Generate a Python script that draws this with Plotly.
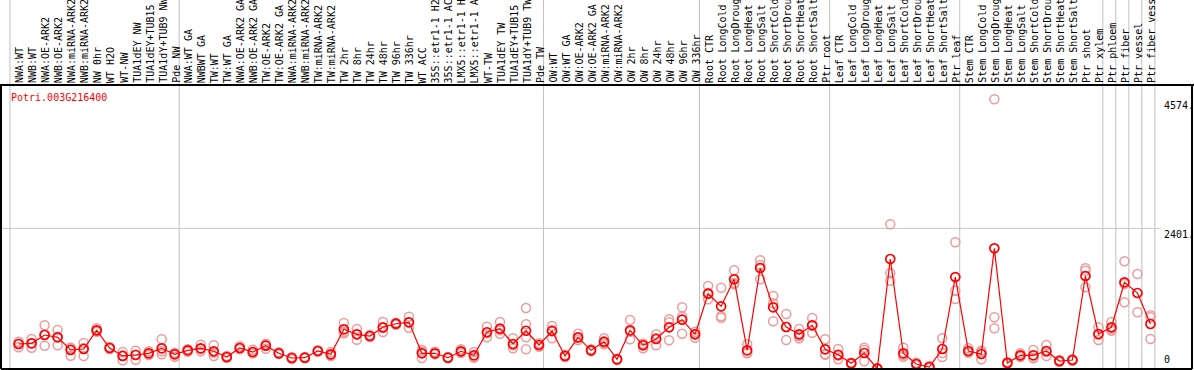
import plotly.graph_objects as go

gene_id = "Potri.003G216400"

categories = [
    "NWA:WT", "NWB:WT", "NWA:OE-ARK2", "NWB:OE-ARK2", "NWA:miRNA-ARK2", "NWB:miRNA-ARK2",
    "NW 0hr", "WT H2O", "WT-NW", "TUA1dEY NW", "TUA1dEY+TUB15 NW", "TUA1dY+TUB9 NW", "Pde NW",
    "NWA:WT GA", "NWBWT GA", "TW:WT", "TW:WT GA", "NWA:OE-ARK2 GA", "NWB:OE-ARK2 GA",
    "TW:OE-ARK2", "TW:OE-ARK2 GA", "NWA:miRNA-ARK2 GA", "NWB:miRNA-ARK2 GA", "TW:miRNA-ARK2",
    "TW:miRNA-ARK2 GA", "TW 2hr", "TW 8hr", "TW 24hr", "TW 48hr", "TW 96hr", "TW 336hr",
    "WT ACC", "35S::etr1-1 H2O", "35S::etr1-1 ACC", "LMX5::etr1-1 H2O", "LMX5::etr1-1 ACC",
    "WT-TW", "TUA1dEY TW", "TUA1dEY+TUB15 TW", "TUA1dY+TUB9 TW", "Pde TW",
    "OW:WT", "OW:WT GA", "OW:OE-ARK2", "OW:OE-ARK2 GA", "OW:miRNA-ARK2", "OW:miRNA-ARK2 GA",
    "OW 2hr", "OW 8hr", "OW 24hr", "OW 48hr", "OW 96hr", "OW 336hr",
    "Root CTR", "Root LongCold", "Root LongDrought", "Root LongHeat", "Root LongSalt",
    "Root ShortCold", "Root ShortDrought", "Root ShortHeat", "Root ShortSalt", "Ptr root",
    "Leaf CTR", "Leaf LongCold", "Leaf LongDrought", "Leaf LongHeat", "Leaf LongSalt",
    "Leaf ShortCold", "Leaf ShortDrought", "Leaf ShortHeat", "Leaf ShortSalt", "Ptr leaf",
    "Stem CTR", "Stem LongCold", "Stem LongDrought", "Stem LongHeat", "Stem LongSalt",
    "Stem ShortCold", "Stem ShortDrought", "Stem ShortHeat", "Stem ShortSalt", "Ptr shoot",
    "Ptr xylem", "Ptr phloem", "Ptr fiber", "Ptr vessel", "Ptr fiber vessel",
]

group_sizes = [13, 28, 12, 10, 10, 11, 1, 1, 1, 1]

mean_values = [
    455, 466, 606, 567, 354, 370, 685, 387, 253, 269,
    298, 382, 281, 348, 382, 332, 236, 387, 320, 426,
    298, 219, 224, 337, 281, 702, 618, 589, 736, 796,
    820, 298, 298, 224, 332, 264, 652, 712, 455, 678,
    438, 673, 253, 567, 348, 493, 197, 685, 433, 539,
    736, 864, 618, 1301, 1089, 1544, 348, 1734, 1072, 741,
    618, 769, 365, 274, 130, 303, 39, 1886, 298, 118,
    67, 370, 1582, 337, 286, 2066, 135, 264, 264, 337,
    168, 185, 1599, 623, 736, 1493, 1313, 791,
]

replicates = [
    [493, 399, 455], [539, 392, 466], [769, 426, 620], [690, 433, 578], [392, 258, 387],
    [471, 253, 387], [719, 673, 662], [404, 370, 387], [320, 180, 258], [342, 190, 275],
    [332, 269, 293], [534, 281, 332], [308, 241, 295], [365, 325, 354], [443, 332, 370],
    [433, 253, 308], [253, 219, 236], [416, 365, 382], [359, 298, 303], [460, 375, 438],
    [315, 286, 291], [236, 202, 219], [236, 214, 224], [348, 325, 337], [320, 264, 253],
    [808, 635, 662], [707, 527, 618], [606, 572, 589], [825, 657, 724], [813, 779, 796],
    [914, 729, 820], [354, 325, 219], [325, 286, 281], [236, 214, 224], [365, 303, 325],
    [320, 236, 224], [746, 567, 640], [825, 628, 685], [551, 382, 433], [1061, 786, 567, 365],
    [466, 409, 438], [758, 551, 690], [269, 236, 253], [628, 522, 556], [365, 332, 348],
    [551, 471, 449], [207, 185, 197], [859, 534, 662], [382, 455, 460], [618, 433, 556],
    [870, 820, 517], [1072, 914, 628], [662, 561, 623], [1431, 1207, 1313], [1402, 921, 897],
    [1695, 1460, 1482], [449, 298, 303], [1864, 1544, 1785], [1263, 1140, 837], [960, 522, 741],
    [707, 551, 589], [892, 645, 769], [534, 274, 287], [370, 197, 258], [140, 118, 130],
    [392, 163, 354], [50, 25, 39], [2470, 1645, 1520], [392, 241, 269], [140, 101, 118],
    [84, 50, 67], [551, 236, 303], [2167, 1352, 1212], [382, 308, 320], [342, 197, 320],
    [4574, 904, 719], [152, 118, 135], [298, 236, 253], [354, 214, 224], [438, 253, 320],
    [185, 152, 168], [197, 173, 185], [1729, 1689, 1409], [736, 522, 611], [825, 678, 707],
    [1847, 1157, 1465], [1633, 988], [938, 904, 539],
]

tick_values = [0, 2401, 4574]
tick_labels = ["0", "2401.", "4574."]
grid_values = [2401]

# ---------------- layout geometry (pixels) ----------------
W, H = 1194, 370
PLOT_TOP, PLOT_BOT = 85, 369
X_RANGE = [-1.4297, 90.346]
Y_RANGE = [33.7, 4815]
FONT = "DejaVu Sans Mono"


def paper_x_from_px(px):
    return px / W


def paper_y_from_px(py):
    return (PLOT_BOT - py) / (PLOT_BOT - PLOT_TOP)


def paper_x_from_idx(v):
    return (v - X_RANGE[0]) / (X_RANGE[1] - X_RANGE[0])


n = len(categories)
xs = list(range(n))

rep_x, rep_y = [], []
for i, reps in enumerate(replicates):
    for r in reps:
        rep_x.append(i)
        rep_y.append(r)

fig = go.Figure()
fig.add_trace(go.Scatter(
    x=rep_x, y=rep_y, mode="markers", hoverinfo="skip",
    marker=dict(symbol="circle-open", size=9, color="#ec9a9a", line=dict(width=1.5)),
    showlegend=False,
))
fig.add_trace(go.Scatter(
    x=xs, y=mean_values, mode="lines+markers",
    line=dict(color="#ff0000", width=1.2),
    marker=dict(symbol="circle-open", size=9, color="#ff0000", line=dict(width=1.7)),
    showlegend=False,
))

shapes = []
bounds = [0]
for g in group_sizes:
    bounds.append(bounds[-1] + g)
top_paper = paper_y_from_px(0)
for b in bounds:
    xp = paper_x_from_idx(b - 0.661)
    shapes.append(dict(type="line", xref="paper", yref="paper", x0=xp, x1=xp,
                       y0=0, y1=top_paper, line=dict(color="#c0c0c0", width=1), layer="below"))
for gv in grid_values:
    shapes.append(dict(type="line", xref="paper", yref="y", x0=0, x1=paper_x_from_px(1161),
                       y0=gv, y1=gv, line=dict(color="#c8c8c8", width=1), layer="below"))
blk = dict(color="black", width=2)
shapes.append(dict(type="line", xref="paper", yref="paper", x0=0, x1=1, y0=1, y1=1, line=blk))
shapes.append(dict(type="line", xref="paper", yref="paper", x0=paper_x_from_px(1),
                   x1=paper_x_from_px(1192), y0=0, y1=0, line=blk))
shapes.append(dict(type="line", xref="paper", yref="paper", x0=paper_x_from_px(1),
                   x1=paper_x_from_px(1), y0=0, y1=1, line=blk))
shapes.append(dict(type="line", xref="paper", yref="paper", x0=paper_x_from_px(1192),
                   x1=paper_x_from_px(1192), y0=0, y1=1, line=blk))

annotations = []
label_y = paper_y_from_px(84)
for i, c in enumerate(categories):
    annotations.append(dict(
        x=i, xref="x", y=label_y, yref="paper", text=c, showarrow=False,
        textangle=-90, xanchor="center", yanchor="bottom", xshift=1.5,
        font=dict(family=FONT, size=10, color="black"), borderpad=0,
    ))
annotations.append(dict(
    x=paper_x_from_px(9), xref="paper", y=paper_y_from_px(97), yref="paper",
    text=gene_id, showarrow=False, xanchor="left", yanchor="middle",
    font=dict(family=FONT, size=10, color="#ff0000"),
))
for tv, tl in zip(tick_values, tick_labels):
    if tv == 0:
        annotations.append(dict(
            x=paper_x_from_px(1163), xref="paper", y=paper_y_from_px(366), yref="paper",
            text=tl, showarrow=False, xanchor="left", yanchor="bottom",
            font=dict(family=FONT, size=10, color="black"), borderpad=0,
        ))
    else:
        annotations.append(dict(
            x=paper_x_from_px(1163), xref="paper", y=tv, yref="y",
            text=tl, showarrow=False, xanchor="left", yanchor="top",
            font=dict(family=FONT, size=10, color="black"), borderpad=0,
        ))

fig.update_layout(
    width=W, height=H,
    margin=dict(l=0, r=0, t=PLOT_TOP, b=H - PLOT_BOT, pad=0),
    paper_bgcolor="white", plot_bgcolor="white",
    xaxis=dict(range=X_RANGE, visible=False, fixedrange=True),
    yaxis=dict(range=Y_RANGE, visible=False, fixedrange=True),
    shapes=shapes, annotations=annotations,
    font=dict(family=FONT),
)

fig.write_html(
    "out.html",
    config={"displayModeBar": False},
    post_script="document.body.style.margin='0';document.body.style.overflow='hidden';",
)
